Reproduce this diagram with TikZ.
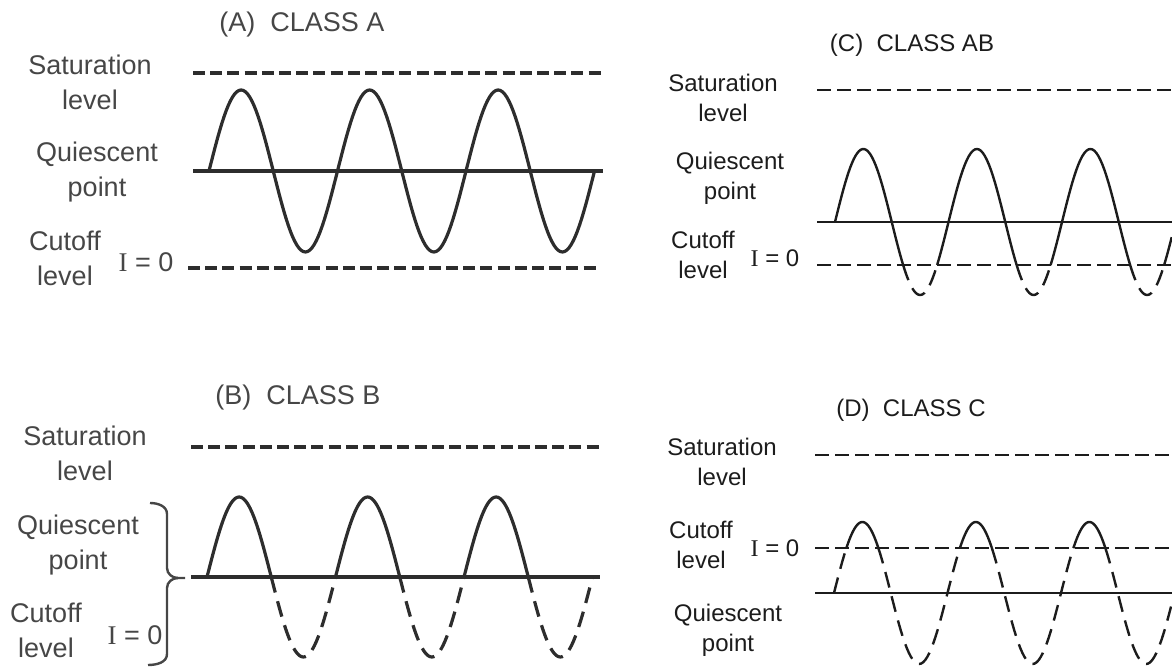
\documentclass[tikz,border=0pt]{standalone}
\usepackage{fontspec}
\setmainfont{Liberation Sans}
\newfontfamily\serifI{Liberation Serif}
\usepackage{tikz}
\usetikzlibrary{calc}

\definecolor{scangray}{RGB}{70,70,70}
\definecolor{scanline}{RGB}{45,45,45}
\definecolor{scanink}{RGB}{28,28,28}

\begin{document}
\begin{tikzpicture}[x=0.5pt, y=-0.5pt,
        lbl_ab/.style={font=\fontsize{13.5}{17.5}\selectfont, text=scangray, align=center, inner sep=0pt},
        lbl_cd/.style={font=\fontsize{12}{15}\selectfont, text=scanink, align=center, inner sep=0pt},
        level_ab/.style={draw=scanline, line width=1.7pt, dash pattern=on 6pt off 2.6pt},
        level_cd/.style={draw=scanink, line width=1.2pt, dash pattern=on 7pt off 3pt},
        quies_ab/.style={draw=scanline, line width=1.6pt},
        quies_cd/.style={draw=scanink, line width=1.2pt},
        wave_ab/.style={draw=scanline, line width=1.6pt, line join=round},
        wave_cd/.style={draw=scanink, line width=1.2pt, line join=round},
        wave_cut/.style={dash pattern=on 8pt off 4.5pt}
    ]
    \useasboundingbox (0,0) rectangle (1172,667);

    % ==================== (A) Class A ====================
    \node[lbl_ab] (title_a) at (302, 25) {(A)~~CLASS A};
    \node[lbl_ab] (sat_a) at (90, 82) {Saturation\\level};
    \node[lbl_ab] (qp_a) at (97, 172) {Quiescent\\point};
    \node[lbl_ab] (cut_a) at (65, 258) {Cutoff\\level};
    \node[lbl_ab] (izero_a) at (146, 262) {{\serifI I} = 0};

    \draw[level_ab] (193, 73) -- (603, 73);
    \draw[quies_ab] (193, 171) -- (603, 171);
    \draw[level_ab] (188, 268) -- (600, 268);
    \draw[wave_ab] plot[domain=0:1080, samples=181] ({209+\x/360*128.5}, {171-81*sin(\x)});

    % ==================== (B) Class B ====================
    \node[lbl_ab] (title_b) at (298, 398) {(B)~~CLASS B};
    \node[lbl_ab] (sat_b) at (85, 453) {Saturation\\level};
    \node[lbl_ab] (qp_b) at (78, 545) {Quiescent\\point};
    \node[lbl_ab] (cut_b) at (46, 630) {Cutoff\\level};
    \node[lbl_ab] (izero_b) at (135, 635) {{\serifI I} = 0};

    \draw[level_ab] (191, 447) -- (600, 447);
    \draw[quies_ab] (191, 577) -- (600, 577);
    \foreach \a/\b in {0/180, 360/540, 720/900} {
        \draw[wave_ab] plot[domain=\a:\b, samples=41] ({207+\x/360*128.5}, {577-80*sin(\x)});
    }
    \foreach \a/\b in {180/360, 540/720, 900/1080} {
        \draw[wave_ab, wave_cut] plot[domain=\a:\b, samples=41] ({207+\x/360*128.5}, {577-80*sin(\x)});
    }

    % brace round both labels
    \draw[draw=scangray, line width=1.2pt] (150, 503) to[out=0, in=90] (167, 514) -- (167, 568)
        to[out=-90, in=180] (178, 578) -- (185, 578);
    \draw[draw=scangray, line width=1.2pt] (178, 578) to[out=180, in=90] (167, 588) -- (167, 654)
        to[out=-90, in=0] (148, 665);

    % ==================== (C) Class AB ====================
    \node[lbl_cd] (title_c) at (912, 45) {(C)~~CLASS AB};
    \node[lbl_cd] (sat_c) at (723, 98) {Saturation\\level};
    \node[lbl_cd] (qp_c) at (730, 178) {Quiescent\\point};
    \node[lbl_cd] (cut_c) at (703, 255) {Cutoff\\level};
    \node[lbl_cd] (izero_c) at (775, 258) {{\serifI I} = 0};

    \draw[level_cd] (817, 90) -- (1172, 90);
    \draw[quies_cd] (817, 222) -- (1172, 222);
    \draw[level_cd] (817, 265) -- (1172, 265);
    \foreach \a/\b in {0/216.1, 323.9/576.1, 683.9/936.1, 1043.9/1068} {
        \draw[wave_cd] plot[domain=\a:\b, samples=41] ({835+\x/360*113.5}, {222-73*sin(\x)});
    }
    \foreach \a/\b in {216.1/323.9, 576.1/683.9, 936.1/1043.9} {
        \draw[wave_cd, wave_cut] plot[domain=\a:\b, samples=25] ({835+\x/360*113.5}, {222-73*sin(\x)});
    }

    % ==================== (D) Class C ====================
    \node[lbl_cd] (title_d) at (911, 410) {(D)~~CLASS C};
    \node[lbl_cd] (sat_d) at (722, 462) {Saturation\\level};
    \node[lbl_cd] (cut_d) at (701, 545) {Cutoff\\level};
    \node[lbl_cd] (izero_d) at (775, 548) {{\serifI I} = 0};
    \node[lbl_cd] (qp_d) at (728, 630) {Quiescent\\point};

    \draw[level_cd] (815, 455) -- (1172, 455);
    \draw[level_cd] (815, 548) -- (1172, 548);
    \draw[quies_cd] (815, 593) -- (1172, 593);
    \foreach \a/\b in {39.3/140.7, 399.3/500.7, 759.3/860.7} {
        \draw[wave_cd] plot[domain=\a:\b, samples=25] ({834+\x/360*113.5}, {593-71*sin(\x)});
    }
    \foreach \a/\b in {0/39.3, 140.7/399.3, 500.7/759.3, 860.7/1069} {
        \draw[wave_cd, wave_cut] plot[domain=\a:\b, samples=41] ({834+\x/360*113.5}, {593-71*sin(\x)});
    }

\end{tikzpicture}
\end{document}
